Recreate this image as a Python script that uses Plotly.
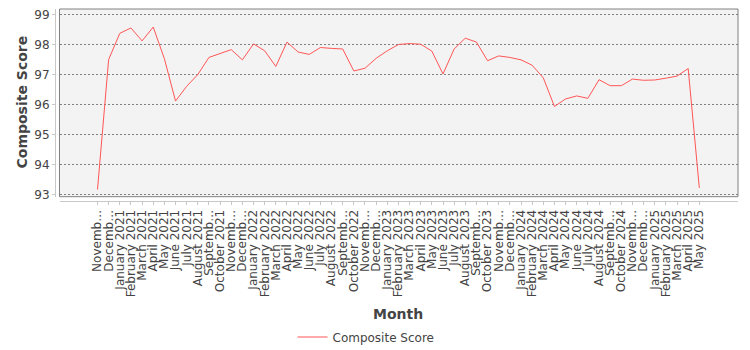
import plotly.graph_objects as go

months = [
    "November 2020", "December 2020",
    "January 2021", "February 2021", "March 2021", "April 2021", "May 2021", "June 2021",
    "July 2021", "August 2021", "September 2021", "October 2021", "November 2021", "December 2021",
    "January 2022", "February 2022", "March 2022", "April 2022", "May 2022", "June 2022",
    "July 2022", "August 2022", "September 2022", "October 2022", "November 2022", "December 2022",
    "January 2023", "February 2023", "March 2023", "April 2023", "May 2023", "June 2023",
    "July 2023", "August 2023", "September 2023", "October 2023", "November 2023", "December 2023",
    "January 2024", "February 2024", "March 2024", "April 2024", "May 2024", "June 2024",
    "July 2024", "August 2024", "September 2024", "October 2024", "November 2024", "December 2024",
    "January 2025", "February 2025", "March 2025", "April 2025", "May 2025",
]

tick_labels = [
    "Novemb…", "Decemb…",
    "January 2021", "February 2021", "March 2021", "April 2021", "May 2021", "June 2021",
    "July 2021", "August 2021", "Septemb…", "October 2021", "Novemb…", "Decemb…",
    "January 2022", "February 2022", "March 2022", "April 2022", "May 2022", "June 2022",
    "July 2022", "August 2022", "Septemb…", "October 2022", "Novemb…", "Decemb…",
    "January 2023", "February 2023", "March 2023", "April 2023", "May 2023", "June 2023",
    "July 2023", "August 2023", "Septemb…", "October 2023", "Novemb…", "Decemb…",
    "January 2024", "February 2024", "March 2024", "April 2024", "May 2024", "June 2024",
    "July 2024", "August 2024", "Septemb…", "October 2024", "Novemb…", "Decemb…",
    "January 2025", "February 2025", "March 2025", "April 2025", "May 2025",
]

composite_score = [
    93.18, 97.50,
    98.37, 98.55, 98.12, 98.58, 97.53, 96.12, 96.61, 97.00, 97.57, 97.70, 97.83, 97.49,
    98.02, 97.79, 97.27, 98.08, 97.75, 97.67, 97.90, 97.87, 97.85, 97.12, 97.21, 97.54,
    97.79, 98.00, 98.03, 98.01, 97.78, 97.02, 97.85, 98.21, 98.08, 97.46, 97.62, 97.57,
    97.49, 97.31, 96.89, 95.94, 96.19, 96.29, 96.21, 96.83, 96.63, 96.63, 96.85, 96.81,
    96.82, 96.88, 96.95, 97.20, 93.23,
]

y_ticks = [93, 94, 95, 96, 97, 98, 99]

FONT = "DejaVu Sans"
TXT = "#444444"

# The page body has an 8px margin; target geometry is given in window pixels.
OFF = 8
W, H = 742, 342
ax_x, ax_y = 55 - OFF, 201 - OFF          # offset axis lines
plot_l, plot_r = 59.5 - OFF, 738 - OFF     # plot box
plot_t = 9 - OFF
ML, MR, MT, MB = ax_x, W - plot_r, plot_t, H - ax_y
pw = W - ML - MR
ph = H - MT - MB
x_dom0 = (plot_l - ax_x) / pw
y_dom0 = (ax_y - (196.7 - OFF)) / ph


def px_x(x):
    return (x - OFF - ML) / pw


def px_y(y):
    return (H - MB - (y - OFF)) / ph


fig = go.Figure()
fig.add_trace(go.Scatter(
    x=months, y=composite_score, mode="lines", name="Composite Score",
    line=dict(color="#ff5555", width=1),
    showlegend=True,
))

fig.update_layout(
    width=W, height=H,
    margin=dict(l=ML, r=MR, t=MT, b=MB, autoexpand=False),
    paper_bgcolor="white",
    plot_bgcolor="#f3f3f3",
    font=dict(family=FONT, size=12, color=TXT),
    showlegend=True,
    legend=dict(
        orientation="h", x=px_x(366), xanchor="center",
        y=px_y(337), yanchor="middle",
        font=dict(family=FONT, size=12, color=TXT),
        bgcolor="rgba(0,0,0,0)",
    ),
    xaxis=dict(
        type="category",
        domain=[x_dom0, 1],
        anchor="free", position=0,
        range=[-3.41, len(months) - 1 + 3.47],
        tickmode="array", tickvals=months, ticktext=tick_labels,
        tickangle=-90,
        tickfont=dict(family=FONT, size=12, color=TXT),
        showgrid=False, zeroline=False,
        showline=True, linecolor="#c8c8c8", linewidth=1,
        ticks="outside", ticklen=3, tickcolor="#c8c8c8",
        automargin=False,
    ),
    yaxis=dict(
        domain=[y_dom0, 1],
        anchor="free", position=0,
        range=[92.94, 99.18],
        tickmode="array", tickvals=y_ticks,
        tickfont=dict(family=FONT, size=12, color=TXT),
        ticklabeloverflow="allow",
        showgrid=True, gridcolor="#808080", griddash="2px,2px", gridwidth=1,
        zeroline=False,
        showline=True, linecolor="#c8c8c8", linewidth=1,
        ticks="outside", ticklen=3, tickcolor="#c8c8c8",
        automargin=False,
    ),
    shapes=[dict(
        type="rect", xref="x domain", yref="y domain",
        x0=0, x1=1, y0=0, y1=1,
        line=dict(color="#808080", width=1), fillcolor="rgba(0,0,0,0)",
        layer="above",
    )],
    annotations=[
        dict(text="<b>Composite Score</b>", textangle=-90,
             xref="paper", yref="paper",
             x=px_x(21), y=px_y(102.5),
             xanchor="center", yanchor="middle", showarrow=False,
             font=dict(family=FONT, size=14, color=TXT)),
        dict(text="<b>Month</b>",
             xref="paper", yref="paper",
             x=px_x(398.5), y=px_y(314),
             xanchor="center", yanchor="middle", showarrow=False,
             font=dict(family=FONT, size=14, color=TXT)),
    ],
)

fig.write_html("out.html")
